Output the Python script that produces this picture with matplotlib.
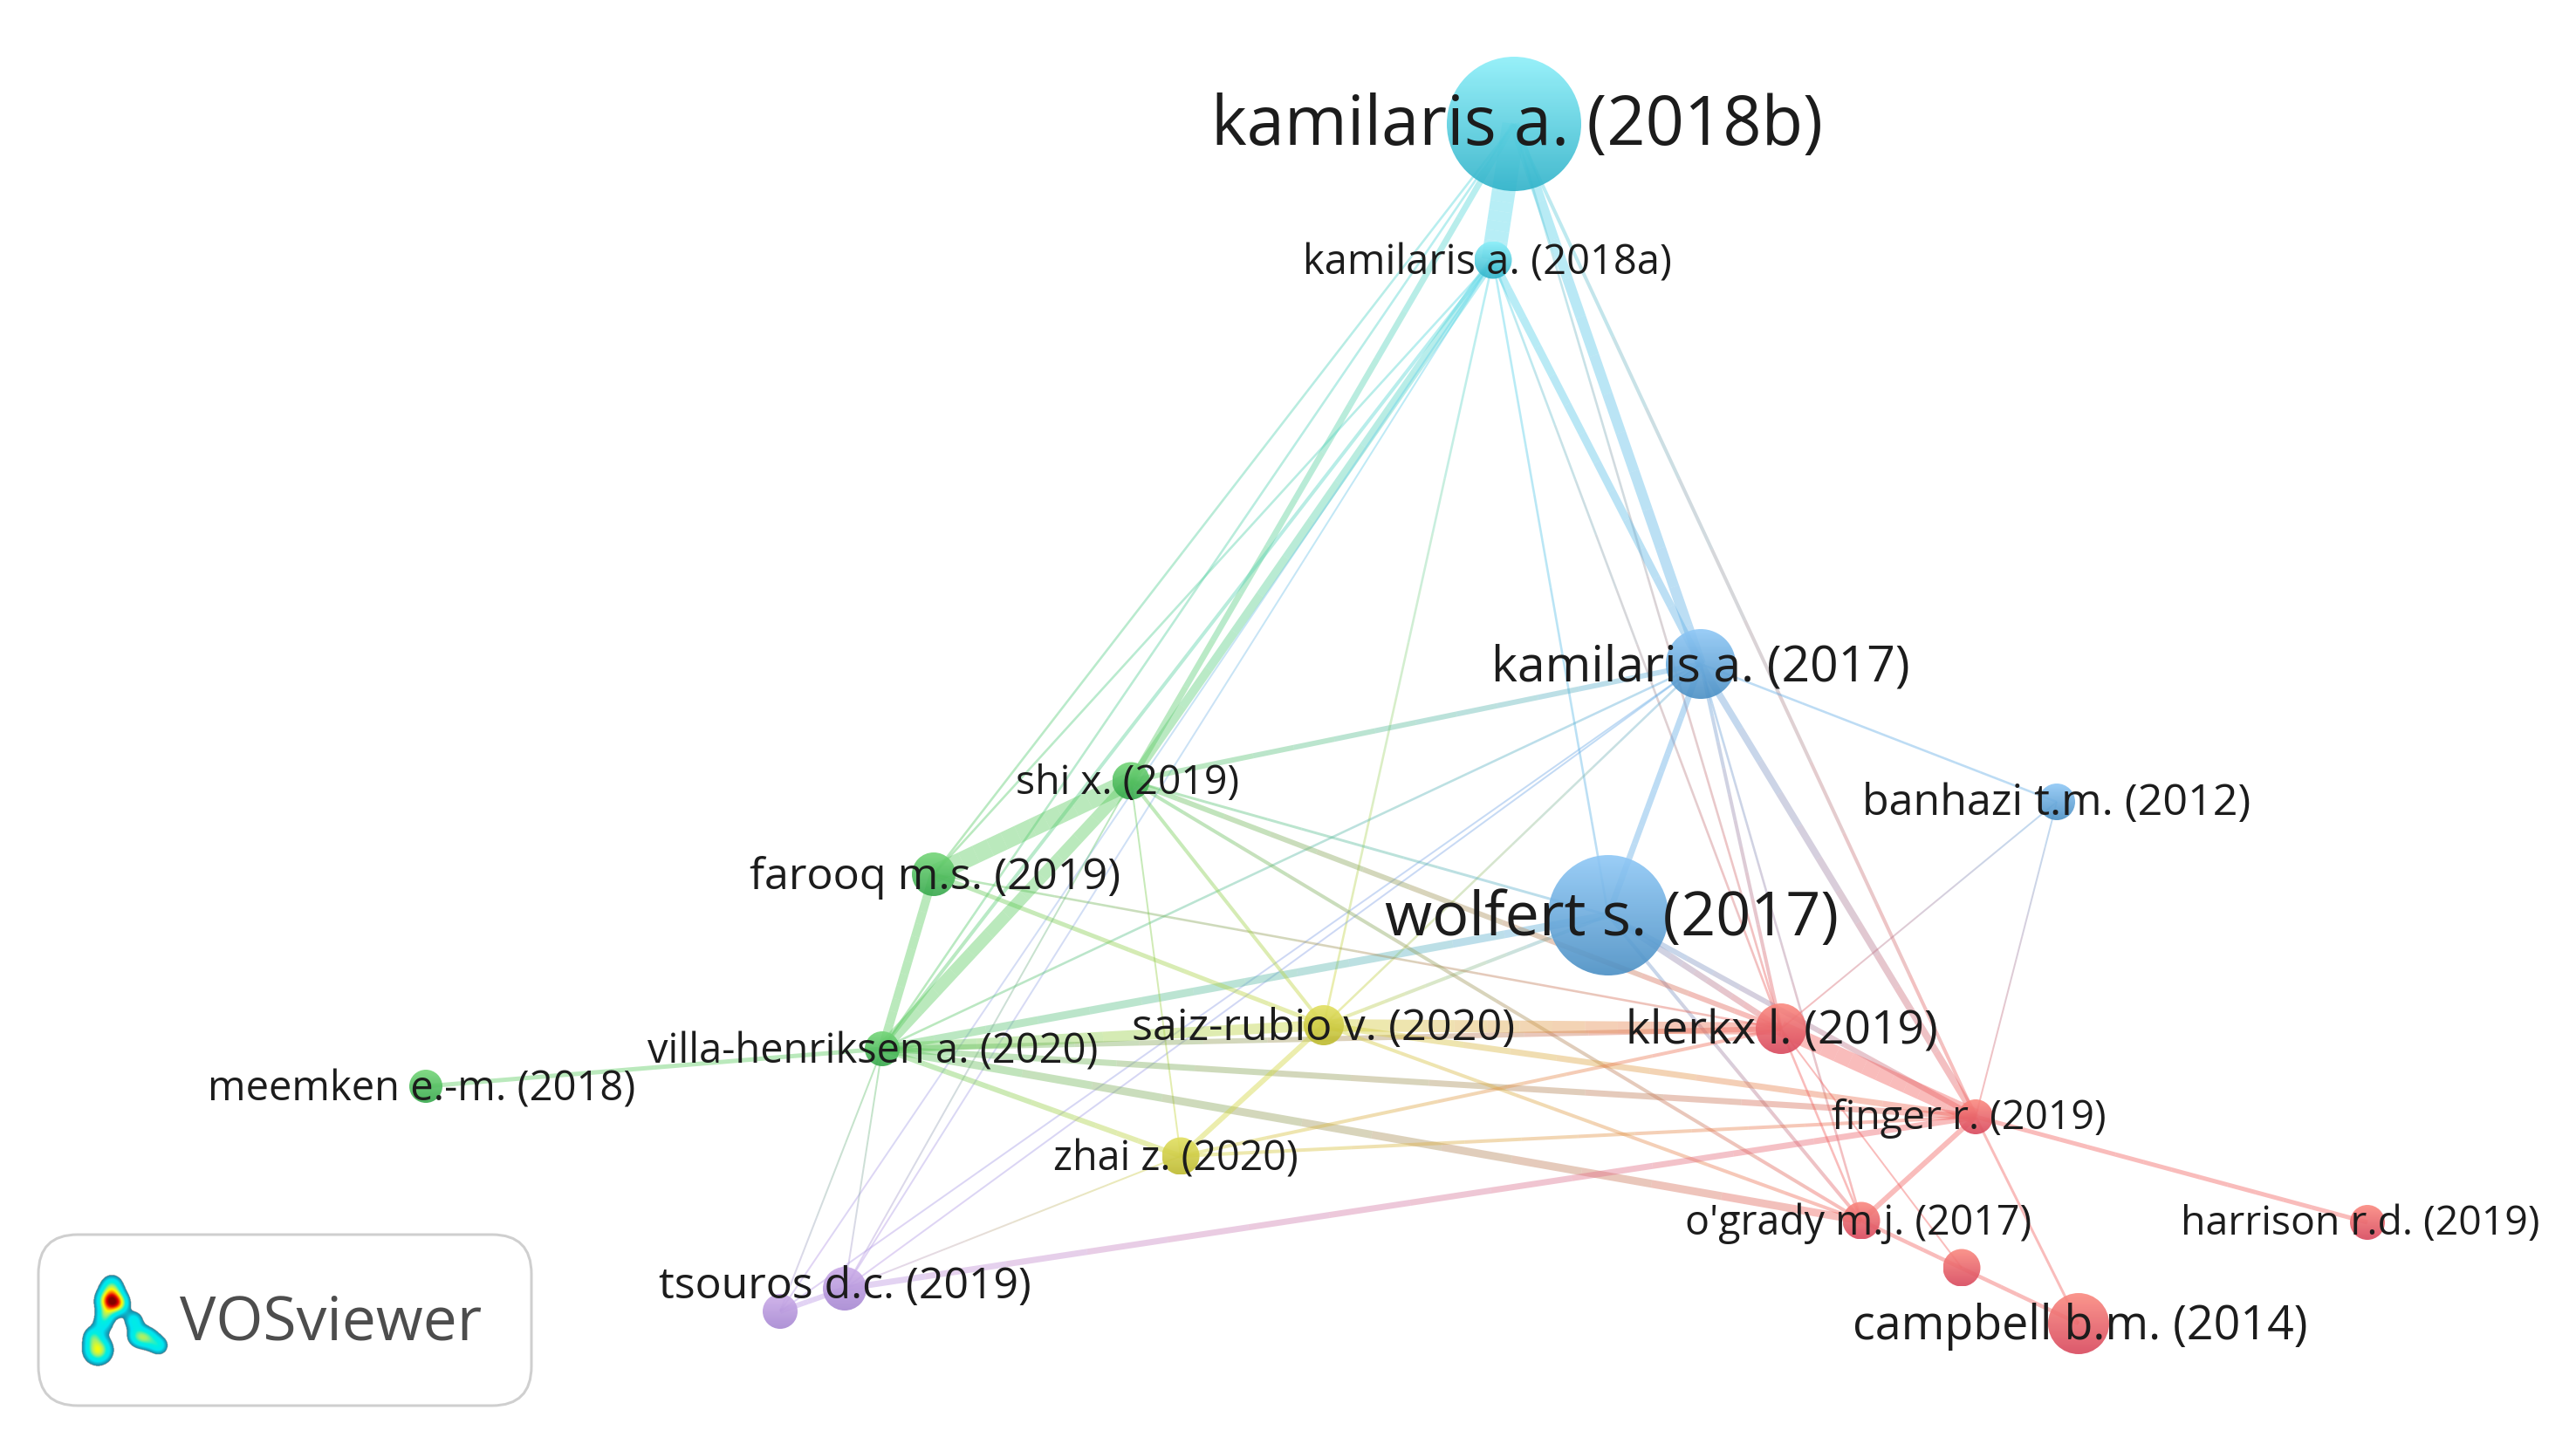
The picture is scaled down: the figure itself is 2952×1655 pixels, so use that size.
import numpy as np
import matplotlib
matplotlib.use("Agg")
import matplotlib.pyplot as plt
from matplotlib.collections import LineCollection
from matplotlib.colors import LinearSegmentedColormap, to_rgb
from matplotlib.patches import Circle, FancyBboxPatch

plt.rcParams['font.family'] = ['Open Sans', 'DejaVu Sans']

# nodes
node_ids = ['kb','ka','k17','ban','wol','shi','far','vil','mee','sai','kle','fin','zha','ogr','har','unk','cam','tso','pur']
node_x = [1735,1711,1949,2357,1843,1296,1070,1011,488,1517,2041,2264,1353,2133,2713,2248,2382,968,894]
node_y = [143,299,762,920,1050,896,1003,1203,1246,1176,1180,1281,1326,1400,1402,1454,1518,1478,1504]
node_d = [154,43,80,42,138,43,50,40,38,46,58,40,43,43,40,43,70,50,40]
node_cluster = ['c','c','b','b','b','g','g','g','g','y','r','r','y','r','r','r','r','p','p']

# labels
label_text = ['kamilaris a. (2018b)','kamilaris a. (2018a)','kamilaris a. (2017)','banhazi t.m. (2012)',
              'wolfert s. (2017)','shi x. (2019)','farooq m.s. (2019)','villa-henriksen a. (2020)',
              'meemken e.-m. (2018)','saiz-rubio v. (2020)','klerkx l. (2019)','finger r. (2019)',
              'zhai z. (2020)',"o'grady m.j. (2017)",'harrison r.d. (2019)','','campbell b.m. (2014)',
              'tsouros d.c. (2019)','']
label_size = [55.9,33.9,41,36.2,50.4,33.4,36.3,33.8,33.9,36.3,38.4,33.4,33.6,33.5,33.4,0,38.7,36,0]
label_dx = [3,-7,0,0,4,-4,2,-11,-5,0,1,-8,-6,-3,-8,0,2,0,0]
label_dy = [3,3,4,1,4,2,3,3,3,3,3,1,3,2,1,0,3,-3,0]

# edges
edge_from = ['kb','kb','kb','kb','kb','kb','kb',
             'ka','ka','ka','ka','ka','ka','ka','ka','ka',
             'k17','k17','k17','k17','k17','k17','k17','k17','k17','k17',
             'wol','wol','wol','wol','wol','wol',
             'far','far','far','far',
             'shi','shi','shi','shi','shi','shi',
             'vil','vil','vil','vil','vil','vil','vil','vil',
             'sai','sai','sai','sai',
             'zha','zha','zha',
             'tso','tso',
             'kle','kle','kle',
             'fin','fin','fin','ogr','ban','ban']
edge_to = ['ka','k17','shi','far','vil','fin','kle',
           'shi','far','vil','k17','kle','wol','sai','tso','pur',
           'wol','shi','vil','sai','ban','fin','kle','ogr','tso','pur',
           'vil','shi','sai','kle','fin','ogr',
           'shi','vil','sai','kle',
           'vil','sai','kle','ogr','zha','tso',
           'mee','sai','kle','fin','ogr','zha','tso','pur',
           'zha','kle','fin','ogr',
           'kle','fin','tso',
           'fin','pur',
           'fin','ogr','unk',
           'ogr','cam','har','cam','kle','fin']
edge_w = [27,12,7,2.6,2.6,4,2.6,
          10,2.6,4,9,2.6,2.6,2.6,2,2,
          7,6,2.6,2.6,2.6,8,4,2.6,2,2,
          9,3,4,7,6,4,
          21,10,5,2.6,
          14,4,6,4,2,2,
          5,12,6,7,9,6,2,2,
          6,14,7,4,
          4,4,2,
          7,6,
          18,2.6,2,
          6,3,5,4.5,2,2]

node_rgb = {'c':'#55d8ea','b':'#62ace6','g':'#5ccb60','y':'#d2d63c','r':'#f2605e','p':'#bb98e6'}
grad_top = {'c':'#8ceff9','b':'#8fc8f6','g':'#74d678','y':'#e2e060','r':'#fb8a80','p':'#ccade9'}
grad_bot = {'c':'#2fb2c9','b':'#4a8fc4','g':'#36a84c','y':'#bdb92e','r':'#d8475c','p':'#a687d2'}

W, H = 2952, 1656
fig = plt.figure(figsize=(W/100, H/100), dpi=100, facecolor='white')
ax = fig.add_axes([0, 0, 1, 1])
ax.axis('off')
PT = 72/100

idx = {n: i for i, n in enumerate(node_ids)}

segs, cols, lws = [], [], []
for a, b, w in zip(edge_from, edge_to, edge_w):
    i, j = idx[a], idx[b]
    p0 = np.array([node_x[i], node_y[i]], float)
    p1 = np.array([node_x[j], node_y[j]], float)
    c0 = np.array(to_rgb(node_rgb[node_cluster[i]]))
    c1 = np.array(to_rgb(node_rgb[node_cluster[j]]))
    n = 14
    for k in range(n):
        t0, t1 = k/n, (k+1)/n
        segs.append([p0+(p1-p0)*t0, p0+(p1-p0)*t1])
        c = c0+(c1-c0)*(k+.5)/n
        cols.append((c[0], c[1], c[2], 0.42))
        lws.append(w*PT)
ax.add_collection(LineCollection(segs, colors=cols, linewidths=lws, capstyle='butt', zorder=2))

grad = np.linspace(0, 1, 128).reshape(-1, 1)
for i, n in enumerate(node_ids):
    x, y, r = node_x[i], node_y[i], node_d[i]/2
    cl = node_cluster[i]
    cmap = LinearSegmentedColormap.from_list('g', [grad_top[cl], grad_bot[cl]])
    im = ax.imshow(grad, cmap=cmap, extent=(x-r, x+r, y+r, y-r), aspect='auto',
                   interpolation='bilinear', alpha=0.9, zorder=3)
    im.set_clip_path(Circle((x, y), r, transform=ax.transData))

for i, t in enumerate(label_text):
    if t:
        ax.text(node_x[i]+label_dx[i], node_y[i]+label_dy[i], t, fontsize=label_size[i], color='#1c1c1c',
                ha='center', va='center', zorder=5)

# VOSviewer box
ax.add_patch(FancyBboxPatch((44+40, 1416+40), 565-80, 196-80, boxstyle='round,pad=40,rounding_size=45',
                            fc='white', ec='#cfcfcf', lw=3*PT, zorder=6))
ax.text(206, 1536, 'VOSviewer', fontsize=50, color='#4d4d4d', ha='left', va='baseline', zorder=7)

# logo density blot
gx, gy = np.meshgrid(np.arange(88, 196, 0.5), np.arange(1454, 1574, 0.5))
blob_x = [127, 128, 138, 118, 112, 106, 120, 153, 158, 170, 182]
blob_y = [1492, 1474, 1495, 1518, 1548, 1532, 1508, 1514, 1532, 1535, 1543]
blob_h = [1.0, 0.34, 0.24, 0.26, 0.62, 0.28, 0.22, 0.3, 0.38, 0.34, 0.3]
blob_s = [9.5, 8, 7, 8, 10, 7, 6, 7, 8, 8, 7]
z = np.zeros_like(gx)
for bx, by, bh, bs in zip(blob_x, blob_y, blob_h, blob_s):
    z = z + bh*np.exp(-((gx-bx)**2 + (gy-by)**2)/(2*bs**2))
z = np.ma.masked_less(z, 0.12)
vos = LinearSegmentedColormap.from_list('vos', ['#1b87a5', '#00e5f2', '#00f0e0', '#a0f070', '#ffff00', '#ff8000', '#e00000', '#800000'])
ax.imshow(z, cmap=vos, vmin=0.12, vmax=1.05, extent=(88, 196, 1574, 1454), aspect='auto',
          interpolation='bilinear', zorder=7)

ax.set_xlim(0, W)
ax.set_ylim(H, 0)
fig.savefig('out.png', dpi=100, facecolor='white')
